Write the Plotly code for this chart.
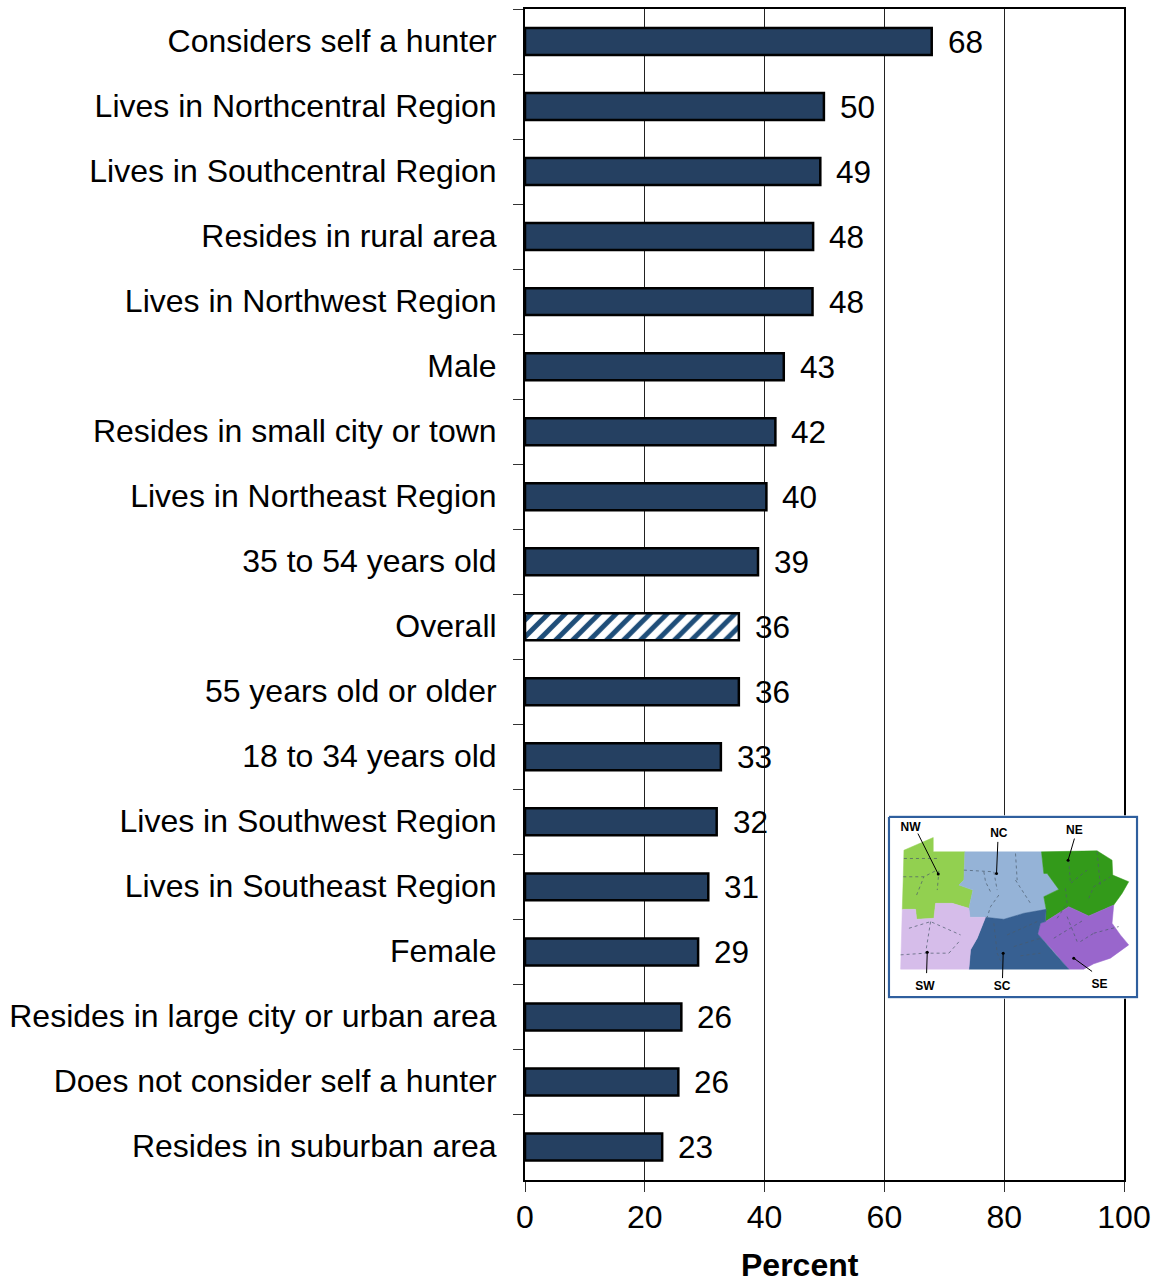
import plotly.graph_objects as go

W, H = 1156, 1282
FONT = "Liberation Sans"

categories = ["Considers self a hunter", "Lives in Northcentral Region", "Lives in Southcentral Region",
              "Resides in rural area", "Lives in Northwest Region", "Male", "Resides in small city or town",
              "Lives in Northeast Region", "35 to 54 years old", "Overall", "55 years old or older",
              "18 to 34 years old", "Lives in Southwest Region", "Lives in Southeast Region", "Female",
              "Resides in large city or urban area", "Does not consider self a hunter", "Resides in suburban area"]
values = [67.9, 49.9, 49.3, 48.1, 48.0, 43.2, 41.8, 40.3, 38.9, 35.7, 35.7, 32.7, 32.0, 30.6, 28.9, 26.1, 25.6, 22.9]
value_labels = [68, 50, 49, 48, 48, 43, 42, 40, 39, 36, 36, 33, 32, 31, 29, 26, 26, 23]
x_ticks = [0, 20, 40, 60, 80, 100]

NAVY = "#254061"

# Inset map: region outlines in map units
regions = {
    "NW": ([70,158,158,253,250,235,277,265,215,165,160,108,105,65,68,70],
           [120,82,125,125,210,225,240,295,280,280,325,328,298,298,200,120], "#92d050"),
    "NC": ([253,483,490,500,535,490,497,430,370,315,268,265,277,235,250,253],
           [125,125,190,190,238,260,298,310,328,322,322,295,240,225,210,125], "#95b3d7"),
    "NE": ([483,650,695,697,745,725,700,625,565,495,497,490,535,500,490,483],
           [125,122,150,195,215,250,285,318,290,335,298,260,238,190,190,125], "#339a1a"),
    "SE": ([565,625,700,695,720,745,690,640,610,565,520,472,480,495,565],
           [290,318,285,340,375,405,445,462,478,478,425,372,340,335,290], "#9966cc"),
    "SC": ([315,370,430,497,495,480,472,520,565,265,270,290,315],
           [322,328,310,298,335,340,372,425,478,478,420,385,322], "#376092"),
    "SW": ([65,105,108,160,165,215,265,268,315,290,270,265,60,62,65],
           [298,298,328,325,280,280,295,322,322,385,420,478,478,400,298], "#d6bdea"),
}
county_x = [70,175,None,68,130,165,None,175,170,None,108,130,None,250,340,350,None,310,315,330,None,405,410,None,
            355,330,320,None,405,450,None,565,570,620,None,650,660,None,555,560,530,None,625,640,690,None,
            520,610,None,600,640,None,640,715,None,560,590,None,340,350,370,None,380,470,None,400,480,None,
            420,480,None,85,150,240,None,150,135,None,60,135,205,None,205,240]
county_y = [145,145,None,200,200,182,None,182,240,None,255,200,None,180,185,240,None,185,215,245,None,130,210,None,
            255,290,322,None,210,280,None,150,220,180,None,125,230,None,235,280,325,None,265,230,200,None,
            385,330,None,395,370,None,370,350,None,320,395,None,340,430,475,None,375,335,None,410,385,None,
            438,430,None,355,335,375,None,335,430,None,435,430,430,None,430,390]
leader_x = [112,173,None,352,348,None,582,563,None,138,140,None,366,368,None,635,580]
leader_y = [70,192,None,95,190,None,85,150,None,490,427,None,505,430,None,485,445]
map_label_names = ["NW", "NC", "NE", "SW", "SC", "SE"]
map_label_x = [90, 355, 582, 133, 365, 657]
map_label_y = [53, 71, 61, 531, 531, 527]
box_x = [25, 770, 770, 25, 25]
box_y = [20, 20, 562, 562, 20]

fig = go.Figure()

solid_cats = [c for c in categories if c != "Overall"]
solid_vals = [v for c, v in zip(categories, values) if c != "Overall"]
overall_vals = [v for c, v in zip(categories, values) if c == "Overall"]

fig.add_trace(go.Bar(y=solid_cats, x=solid_vals, orientation="h", showlegend=False,
                     marker=dict(color=NAVY, line=dict(color="black", width=2.5))))
fig.add_trace(go.Bar(y=["Overall"], x=overall_vals, orientation="h", showlegend=False,
                     marker=dict(color="white", line=dict(color="black", width=2.5),
                                 pattern=dict(shape="/", fgcolor="#1f4e79", bgcolor="white", fgopacity=1,
                                              size=12, solidity=0.42, fillmode="overlay"))))

fig.add_trace(go.Scatter(x=box_x, y=box_y, xaxis="x2", yaxis="y2", mode="lines", fill="toself",
                         fillcolor="white", line=dict(color="#2f5f9e", width=2.2), showlegend=False))
for name, (rx, ry, col) in regions.items():
    fig.add_trace(go.Scatter(x=rx, y=ry, xaxis="x2", yaxis="y2", mode="lines", fill="toself", fillcolor=col,
                             line=dict(color=col, width=0.5), showlegend=False, name=name))
fig.add_trace(go.Scatter(x=county_x, y=county_y, xaxis="x2", yaxis="y2", mode="lines",
                         line=dict(color="#4a5a6a", width=0.7, dash="dot"), showlegend=False))
fig.add_trace(go.Scatter(x=leader_x, y=leader_y, xaxis="x2", yaxis="y2", mode="lines",
                         line=dict(color="black", width=1), showlegend=False))
fig.add_trace(go.Scatter(x=leader_x[1::3], y=leader_y[1::3], xaxis="x2", yaxis="y2", mode="markers",
                         marker=dict(color="black", size=3), showlegend=False))
fig.add_trace(go.Scatter(x=map_label_x, y=map_label_y, text=map_label_names, xaxis="x2", yaxis="y2", mode="text",
                         textfont=dict(family=FONT, size=12, color="black", weight="bold"), showlegend=False))

annotations = [dict(x=v, y=c, xref="x", yref="y", text=str(t), showarrow=False, xanchor="left", yanchor="middle",
                    xshift=14, yshift=0, font=dict(family=FONT, size=31.5, color="black"))
               for v, c, t in zip(values, categories, value_labels)]
annotations.append(dict(x=800 / W, y=1 - 1265 / H, xref="paper", yref="paper", text="<b>Percent</b>", showarrow=False,
                        xanchor="center", yanchor="middle", font=dict(family=FONT, size=32, color="black")))

fig.update_layout(
    width=W, height=H, autosize=False,
    margin=dict(l=0, r=0, t=0, b=0, pad=0),
    paper_bgcolor="white", plot_bgcolor="white",
    barmode="overlay", bargap=0.585, annotations=annotations,
    font=dict(family=FONT, size=32, color="black"),
    xaxis=dict(domain=[525 / W, 1124 / W], range=[0, 100], tickvals=x_ticks, ticks="outside", ticklen=10,
               tickcolor="#333333", tickwidth=1, showgrid=True, gridcolor="#222222", gridwidth=1, zeroline=False,
               showline=True, linecolor="black", linewidth=2, mirror=True, automargin=False,
               tickfont=dict(family=FONT, size=32, color="black"), ticklabelstandoff=-2),
    yaxis=dict(domain=[1 - 1179.5 / H, 1 - 9 / H], type="category", categoryorder="array", categoryarray=categories,
               range=[len(categories) - 0.5, -0.5], tickson="boundaries", ticks="outside", ticklen=10,
               tickcolor="#333333", tickwidth=1, showgrid=False, zeroline=False, showline=True, linecolor="black",
               linewidth=2, mirror=True, automargin=False, ticklabelstandoff=20, ticklabelshift=1,
               tickfont=dict(family=FONT, size=32, color="black")),
    xaxis2=dict(domain=[887.3 / W, 1138.7 / W], range=[20, 775], anchor="y2", visible=False, fixedrange=True),
    yaxis2=dict(domain=[1 - 998.7 / H, 1 - 815.3 / H], range=[567, 15], anchor="x2", visible=False, fixedrange=True),
)

fig.write_html("out.html", config=dict(displayModeBar=False),
               post_script="document.body.style.margin='0';document.documentElement.style.overflow='hidden';")
